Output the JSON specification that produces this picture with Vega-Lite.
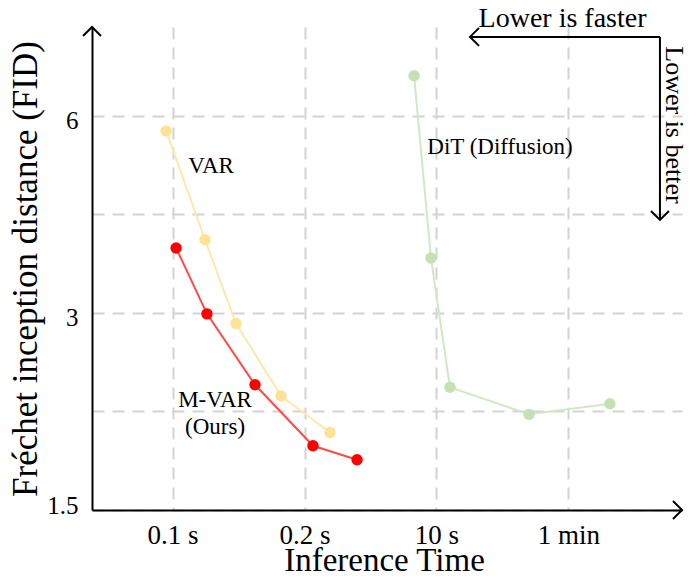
{
  "$schema": "https://vega.github.io/schema/vega-lite/v6.json",
  "width": 590,
  "height": 483,
  "autosize": {"type": "none"},
  "padding": {"left": 92, "top": 27, "right": 8, "bottom": 78},
  "background": "white",
  "config": {
    "view": {"stroke": null},
    "font": "Liberation Serif",
    "text": {"font": "Liberation Serif", "color": "black"}
  },
  "datasets": {
    "pts": [
      {"series": "VAR", "t": 0.951, "fid": 5.69},
      {"series": "VAR", "t": 1.246, "fid": 3.88},
      {"series": "VAR", "t": 1.481, "fid": 2.89},
      {"series": "VAR", "t": 1.822, "fid": 2.24},
      {"series": "VAR", "t": 2.193, "fid": 1.97},
      {"series": "M-VAR", "t": 1.027, "fid": 3.77},
      {"series": "M-VAR", "t": 1.261, "fid": 2.99},
      {"series": "M-VAR", "t": 1.625, "fid": 2.33},
      {"series": "M-VAR", "t": 2.064, "fid": 1.88},
      {"series": "M-VAR", "t": 2.398, "fid": 1.79},
      {"series": "DiT", "t": 2.83, "fid": 6.91},
      {"series": "DiT", "t": 2.958, "fid": 3.64},
      {"series": "DiT", "t": 3.102, "fid": 2.31},
      {"series": "DiT", "t": 3.701, "fid": 2.1},
      {"series": "DiT", "t": 4.314, "fid": 2.18}
    ]
  },
  "encoding": {
    "x": {
      "field": "t",
      "type": "quantitative",
      "scale": {"domain": [0.39, 4.86], "nice": false, "zero": false},
      "axis": {
        "values": [1, 2, 3, 4],
        "labelExpr": "datum.value == 1 ? '0.1 s' : datum.value == 2 ? '0.2 s' : datum.value == 3 ? '10 s' : '1 min'",
        "grid": true,
        "gridColor": "#D3D3D3",
        "gridDash": [12, 8],
        "gridWidth": 2,
        "ticks": false,
        "tickSize": 0,
        "domainColor": "black",
        "domainWidth": 2,
        "labelFont": "Liberation Serif",
        "labelFontSize": 27,
        "labelColor": "black",
        "labelPadding": 33,
        "labelBaseline": "alphabetic",
        "labelFlush": false,
        "labelOverlap": false,
        "title": "Inference Time",
        "titleFont": "Liberation Serif",
        "titleFontSize": 33,
        "titleFontWeight": "normal",
        "titleColor": "black",
        "titleX": 292,
        "titleY": 60,
        "titleBaseline": "alphabetic",
        "titleAlign": "center"
      }
    },
    "y": {
      "field": "fid",
      "type": "quantitative",
      "scale": {"type": "log", "domain": [1.5, 8.2], "nice": false, "zero": false},
      "axis": {
        "values": [1.5, 2.1213, 3, 4.2426, 6],
        "labelExpr": "datum.value == 1.5 ? '1.5' : datum.value == 3 ? '3' : datum.value == 6 ? '6' : ''",
        "grid": true,
        "gridColor": "#D3D3D3",
        "gridDash": [12, 8],
        "gridWidth": 2,
        "ticks": false,
        "tickSize": 0,
        "domainColor": "black",
        "domainWidth": 2,
        "labelFont": "Liberation Serif",
        "labelFontSize": 25,
        "labelColor": "black",
        "labelPadding": 14,
        "labelBaseline": "middle",
        "labelOffset": {"condition": {"test": "datum.value == 1.5", "value": -5}, "value": 5},
        "labelFlush": false,
        "labelOverlap": false,
        "title": "Fréchet inception distance (FID)",
        "titleFont": "Liberation Serif",
        "titleFontSize": 35,
        "titleFontWeight": "normal",
        "titleColor": "black",
        "titleAngle": -90,
        "titleX": -56,
        "titleY": 241.5,
        "titleBaseline": "alphabetic",
        "titleAlign": "center"
      }
    }
  },
  "layer": [
    {
      "data": {"name": "pts"},
      "mark": {"type": "line", "strokeWidth": 2},
      "encoding": {
        "stroke": {
          "field": "series",
          "type": "nominal",
          "scale": {"domain": ["VAR", "M-VAR", "DiT"], "range": ["#FFE8AA", "#FF4B4B", "#D2E8C4"]},
          "legend": null
        }
      }
    },
    {
      "data": {"name": "pts"},
      "mark": {"type": "circle", "size": 130, "opacity": 1},
      "encoding": {
        "fill": {
          "field": "series",
          "type": "nominal",
          "scale": {"domain": ["VAR", "M-VAR", "DiT"], "range": ["#FFE294", "#FF0000", "#C5E0B4"]},
          "legend": null
        }
      }
    },
    {
      "data": {
        "values": [
          {"label": "VAR", "t": 1.292, "fid": 5.03},
          {"label": "DiT (Diffusion)", "t": 3.481, "fid": 5.38},
          {"label": "M-VAR", "t": 1.322, "fid": 2.21},
          {"label": "(Ours)", "t": 1.322, "fid": 2.01}
        ]
      },
      "mark": {"type": "text", "fontSize": 23, "align": "center", "baseline": "middle", "font": "Liberation Serif", "color": "black"},
      "encoding": {"text": {"field": "label"}}
    },
    {
      "data": {
        "values": [
          {"t": 3.254, "fid": 7.92, "t2": 4.693, "fid2": 7.92},
          {"t": 4.693, "fid": 7.92, "t2": 4.693, "fid2": 4.16}
        ]
      },
      "mark": {"type": "rule", "color": "black", "strokeWidth": 2},
      "encoding": {"x2": {"field": "t2"}, "y2": {"field": "fid2"}}
    },
    {
      "data": {
        "values": [
          {"dir": "up", "t": 0.39, "fid": 8.2},
          {"dir": "right", "t": 4.86, "fid": 1.5},
          {"dir": "left", "t": 3.254, "fid": 7.92},
          {"dir": "down", "t": 4.693, "fid": 4.16}
        ]
      },
      "mark": {"type": "point", "filled": false, "size": 324, "stroke": "black", "strokeWidth": 2, "opacity": 1},
      "encoding": {
        "shape": {
          "field": "dir",
          "type": "nominal",
          "scale": {
            "domain": ["up", "right", "left", "down"],
            "range": ["M-1,1L0,0L1,1", "M-1,-1L0,0L-1,1", "M1,-1L0,0L1,1", "M-1,-1L0,0L1,-1"]
          },
          "legend": null
        }
      }
    },
    {
      "data": {"values": [{"label": "Lower is faster", "t": 3.955, "fid": 8.2}]},
      "mark": {"type": "text", "fontSize": 28, "align": "center", "baseline": "alphabetic", "font": "Liberation Serif", "color": "black"},
      "encoding": {"text": {"field": "label"}}
    },
    {
      "data": {"values": [{"label": "Lower is better", "t": 4.739, "fid": 5.81}]},
      "mark": {"type": "text", "fontSize": 26, "angle": 90, "align": "center", "baseline": "alphabetic", "font": "Liberation Serif", "color": "black"},
      "encoding": {"text": {"field": "label"}}
    }
  ]
}
